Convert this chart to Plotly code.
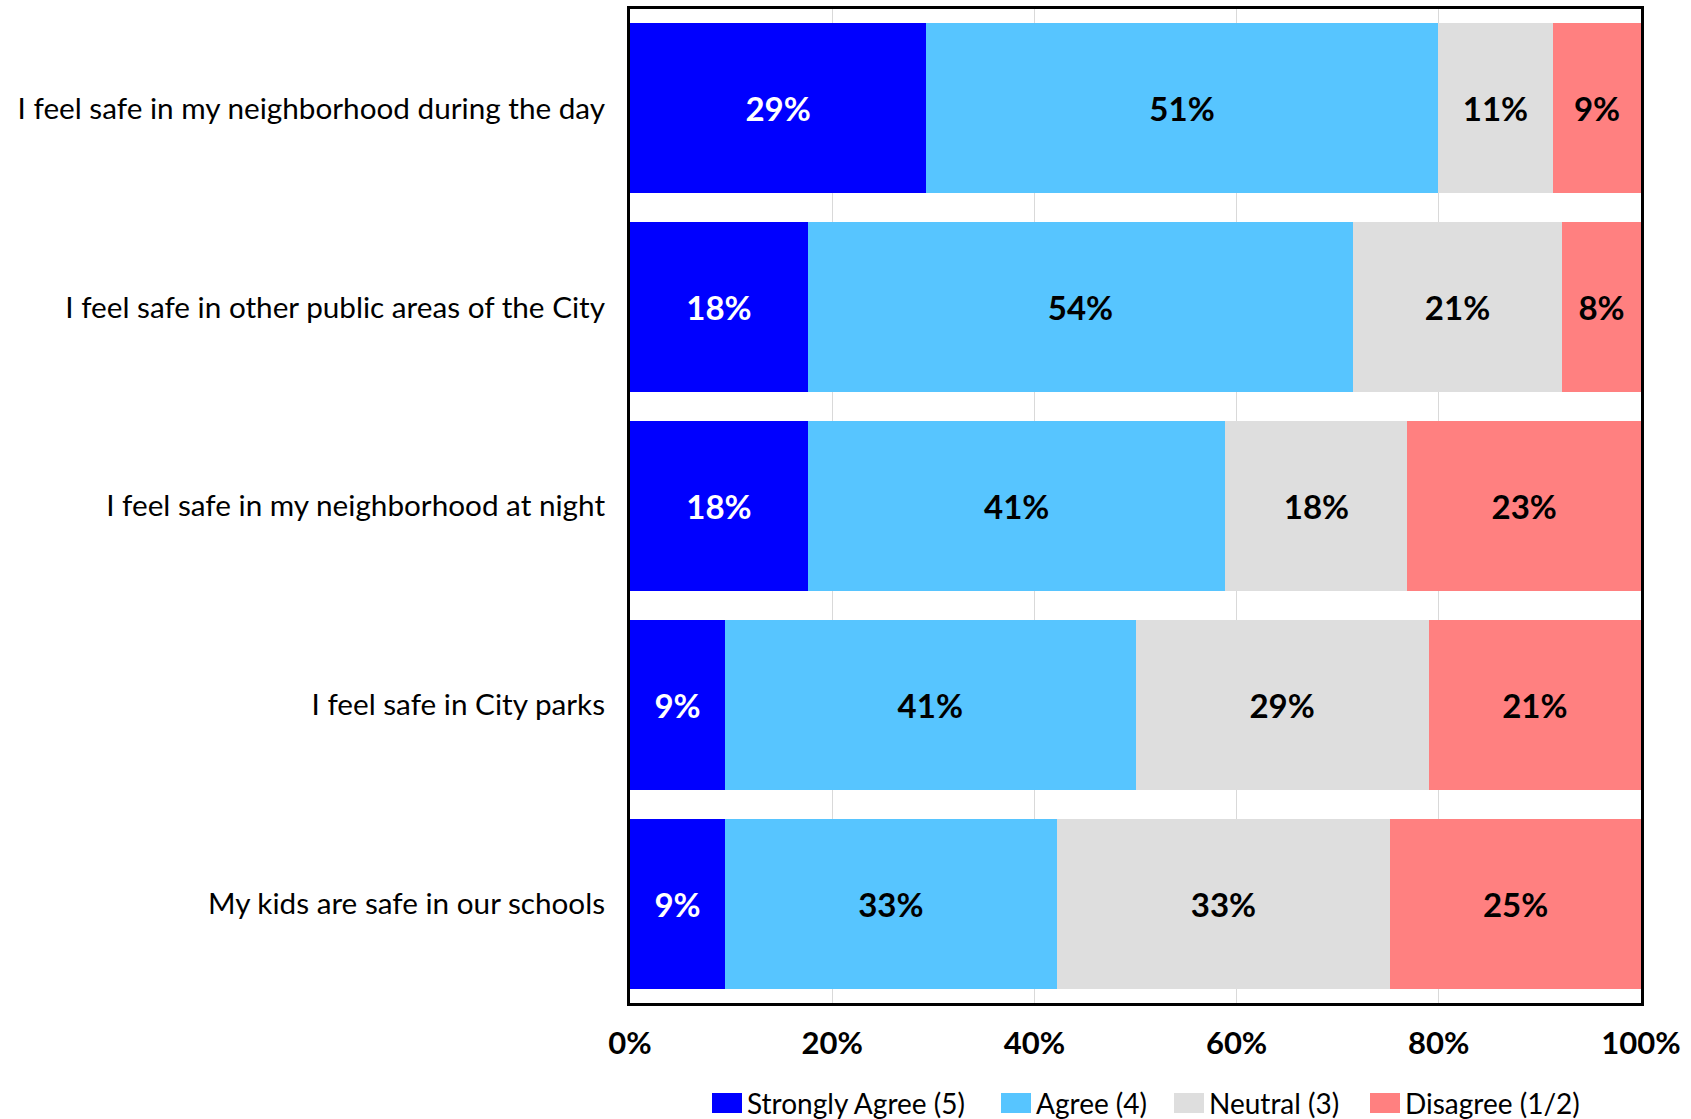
import plotly.graph_objects as go

# Survey statements (top to bottom)
statements = [
    "I feel safe in my neighborhood during the day",
    "I feel safe in other public areas of the City",
    "I feel safe in my neighborhood at night",
    "I feel safe in City parks",
    "My kids are safe in our schools",
]

# Response shares (%) per statement
strongly_agree = [29.3, 17.6, 17.6, 9.4, 9.4]
agree = [50.6, 53.9, 41.3, 40.6, 32.8]
neutral = [11.4, 20.7, 18.0, 29.0, 33.0]
disagree = [8.7, 7.8, 23.1, 21.0, 24.8]

series_names = ["Strongly Agree (5)", "Agree (4)", "Neutral (3)", "Disagree (1/2)"]
series_values = [strongly_agree, agree, neutral, disagree]

tick_vals = [0, 20, 40, 60, 80, 100]
tick_text = ["0%", "20%", "40%", "60%", "80%", "100%"]

series_colors = ["#0000FF", "#57C5FF", "#DEDEDE", "#FF8080"]
label_colors = ["#FFFFFF", "#000000", "#000000", "#000000"]

# Figure geometry (pixels)
W, H = 1691, 1119
M_L, M_R, M_T, M_B = 630, 50, 9, 116
plot_w = W - M_L - M_R
plot_h = H - M_T - M_B

fig = go.Figure()
for name, vals, color, lcolor in zip(series_names, series_values, series_colors, label_colors):
    fig.add_trace(go.Bar(
        y=statements,
        x=vals,
        name=name,
        orientation="h",
        marker=dict(color=color, line=dict(width=0)),
        texttemplate="%{x:.0f}%",
        textposition="inside",
        insidetextanchor="middle",
        textangle=0,
        textfont=dict(family="Lato", size=33, color=lcolor, weight="bold"),
        constraintext="none",
        hoverinfo="skip",
        showlegend=False,
    ))

# Legend drawn beneath the axis: swatch left edges (px) and swatch size
legend_x_px = [712, 1001, 1174, 1370]
legend_y_px = 1103
sw_w, sw_h = 30, 20


def px_to_paper_x(px):
    return (px - M_L) / plot_w


def px_to_paper_y(py):
    return (H - M_B - py) / plot_h


shapes = []
annotations = []
for name, color, lx in zip(series_names, series_colors, legend_x_px):
    shapes.append(dict(
        type="rect", xref="paper", yref="paper",
        x0=px_to_paper_x(lx), x1=px_to_paper_x(lx + sw_w),
        y0=px_to_paper_y(legend_y_px - sw_h / 2), y1=px_to_paper_y(legend_y_px + sw_h / 2),
        fillcolor=color, line=dict(width=0), layer="above",
    ))
    annotations.append(dict(
        xref="paper", yref="paper",
        x=px_to_paper_x(lx + sw_w + 3), y=px_to_paper_y(legend_y_px),
        xanchor="left", yanchor="middle",
        text=name, showarrow=False,
        font=dict(family="Lato", size=28, color="black"),
    ))

fig.update_layout(
    barmode="stack",
    bargap=0.145,
    width=W,
    height=H,
    margin=dict(l=M_L, r=M_R, t=M_T, b=M_B, autoexpand=False),
    paper_bgcolor="white",
    plot_bgcolor="white",
    showlegend=False,
    shapes=shapes,
    annotations=annotations,
    xaxis=dict(
        range=[0, 100],
        tickmode="array",
        tickvals=tick_vals,
        ticktext=tick_text,
        showgrid=True,
        gridcolor="#D9D9D9",
        gridwidth=1,
        zeroline=False,
        showline=True,
        linecolor="black",
        linewidth=3,
        mirror=True,
        ticks="",
        ticklabelstandoff=11,
        automargin=False,
        tickfont=dict(family="Lato", size=31, color="black", weight="bold"),
        fixedrange=True,
    ),
    yaxis=dict(
        categoryorder="array",
        categoryarray=statements[::-1],
        showgrid=False,
        showline=True,
        linecolor="black",
        linewidth=3,
        mirror=True,
        ticks="",
        ticklabelstandoff=16,
        automargin=False,
        tickfont=dict(family="Lato", size=29.7, color="black"),
        fixedrange=True,
    ),
)

fig.write_html("out.html")
